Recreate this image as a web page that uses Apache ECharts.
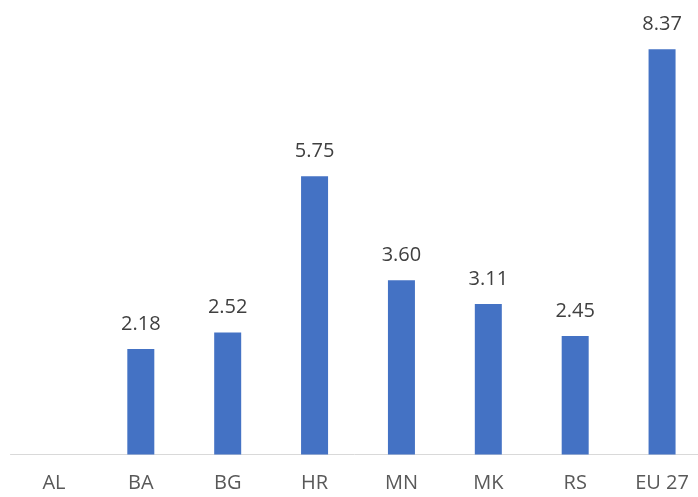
<!DOCTYPE html>
<html>
<head>
<meta charset="utf-8">
<script src="https://cdn.jsdelivr.net/npm/echarts@6/dist/echarts.min.js"></script>
<style>
html, body { margin: 0; padding: 0; background: #fff; }
#main { width: 698px; height: 497px; }
</style>
</head>
<body>
<div id="main"></div>
<script>
var categories = ['AL', 'BA', 'BG', 'HR', 'MN', 'MK', 'RS', 'EU 27'];
var values = [null, 2.18, 2.52, 5.75, 3.60, 3.11, 2.45, 8.37];

var myChart = echarts.init(document.getElementById('main'));

var option = {
    animation: false,
    grid: {
        left: 10.5,
        right: -7.5,
        top: 0,
        bottom: 42.5,
        outerBoundsMode: 'none',
        containLabel: false
    },
    xAxis: {
        type: 'category',
        data: categories,
        axisLine: { lineStyle: { color: '#d9d9d9', width: 1 } },
        axisTick: { show: false },
        axisLabel: {
            color: '#595959',
            fontSize: 20,
            fontFamily: 'Open Sans',
            margin: 19,
            interval: 0
        }
    },
    yAxis: {
        type: 'value',
        min: 0,
        max: 9.39,
        show: false,
        splitLine: { show: false }
    },
    series: [
        {
            type: 'bar',
            data: values,
            barWidth: 27,
            itemStyle: { color: '#4472c4' },
            label: {
                show: true,
                position: 'top',
                distance: 15,
                color: '#404040',
                fontSize: 20,
                fontFamily: 'Open Sans',
                formatter: function (p) {
                    return p.value == null ? '' : p.value.toFixed(2);
                }
            }
        }
    ]
};

myChart.setOption(option);
</script>
</body>
</html>
